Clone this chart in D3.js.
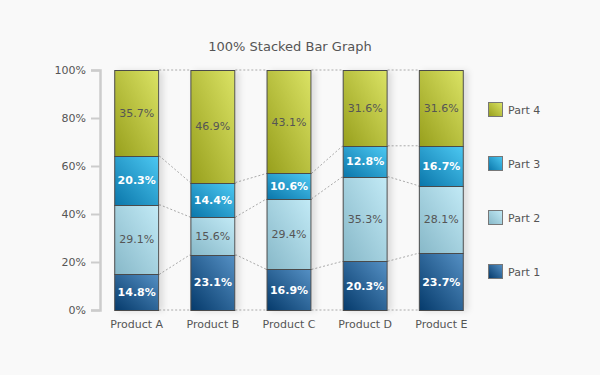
<!DOCTYPE html>
<html>
<head>
<meta charset="utf-8">
<script src="https://cdn.jsdelivr.net/npm/d3@7"></script>
<style>
  body { margin: 0; background: #f9f9f9; }
  svg { display: block; font-family: "DejaVu Sans", Verdana, sans-serif; }
</style>
</head>
<body>
<div id="chart"></div>
<script>
// data
const products = ['Product A', 'Product B', 'Product C', 'Product D', 'Product E'];
const parts = ['Part 1', 'Part 2', 'Part 3', 'Part 4'];
const part1 = [14.8, 23.1, 16.9, 20.3, 23.7];
const part2 = [29.1, 15.6, 29.4, 35.3, 28.1];
const part3 = [20.3, 14.4, 10.6, 12.8, 16.7];
const part4 = [35.7, 46.9, 43.1, 31.6, 31.6];
const yTicks = [0, 0.2, 0.4, 0.6, 0.8, 1];

function drawChart() {
  const width = 600, height = 375;
  const margin = { top: 70, right: 120, bottom: 65, left: 100 };

  const rows = products.map((p, i) => ({
    product: p, 'Part 1': part1[i], 'Part 2': part2[i], 'Part 3': part3[i], 'Part 4': part4[i]
  }));

  const series = d3.stack().keys(parts).offset(d3.stackOffsetExpand)(rows);

  const svg = d3.select('#chart').append('svg')
    .attr('width', width).attr('height', height);

  const defs = svg.append('defs');
  // gradients: dark bottom-left, light top-right
  const grads = {
    'Part 1': ['#053a6b', '#5590c4'],
    'Part 2': ['#87b8c8', '#c2eaf6'],
    'Part 3': ['#0a76aa', '#4cc8f2'],
    'Part 4': ['#979f1c', '#dbe365']
  };
  parts.forEach((k, i) => {
    const g = defs.append('linearGradient').attr('id', 'g' + i)
      .attr('x1', '0').attr('y1', '1').attr('x2', '1').attr('y2', '0');
    g.append('stop').attr('offset', '0%').attr('stop-color', grads[k][0]);
    g.append('stop').attr('offset', '100%').attr('stop-color', grads[k][1]);
  });
  const f = defs.append('filter').attr('id', 'shadow')
    .attr('x', '-20%').attr('y', '-10%').attr('width', '150%').attr('height', '120%');
  f.append('feDropShadow').attr('dx', 4).attr('dy', 1).attr('stdDeviation', 3)
    .attr('flood-color', '#000').attr('flood-opacity', 0.12);

  const x = d3.scaleBand().domain(products)
    .range([margin.left - 1, width - margin.right - 1]).paddingInner(0.41).paddingOuter(0.2);
  const y = d3.scaleLinear().domain([0, 1]).range([height - margin.bottom, margin.top]);
  const bw = x.bandwidth();

  // title
  svg.append('text')
    .attr('x', (margin.left + width - margin.right) / 2).attr('y', 51)
    .attr('text-anchor', 'middle').attr('fill', '#555').attr('font-size', 13)
    .text('100% Stacked Bar Graph');

  // y axis
  const yAxis = svg.append('g').attr('transform', `translate(${margin.left},0)`)
    .call(d3.axisLeft(y).tickValues(yTicks).tickSize(9).tickPadding(5).tickFormat(d3.format('.0%')));
  yAxis.select('.domain').attr('stroke', '#ccc').attr('stroke-width', 2.5);
  yAxis.selectAll('.tick line').attr('stroke', '#ccc').attr('stroke-width', 2);
  yAxis.selectAll('.tick text').attr('fill', '#555').attr('font-size', 11)
    .attr('font-family', '"DejaVu Sans", Verdana, sans-serif');

  // connector lines between bars at each cumulative level
  const levels = products.map((p, i) => [0].concat(series.map(s => s[i][1])));
  for (let i = 0; i < products.length - 1; i++) {
    levels[i].forEach((lv, j) => {
      svg.append('line')
        .attr('x1', x(products[i]) + bw).attr('y1', y(lv))
        .attr('x2', x(products[i + 1])).attr('y2', y(levels[i + 1][j]))
        .attr('stroke', '#aaa').attr('stroke-width', 1).attr('stroke-dasharray', '2,2');
    });
  }

  // bar shadows
  svg.append('g').selectAll('rect').data(products).join('rect')
    .attr('x', d => x(d)).attr('y', y(1)).attr('width', bw).attr('height', y(0) - y(1))
    .attr('fill', '#f9f9f9').attr('filter', 'url(#shadow)');

  // bars
  const layer = svg.append('g').selectAll('g').data(series).join('g');
  layer.selectAll('rect').data((s, i) => s.map(d => ({ d, i })))
    .join('rect')
    .attr('x', o => x(o.d.data.product) + 0.5)
    .attr('y', o => Math.round(y(o.d[1])) + 0.5)
    .attr('width', bw - 1)
    .attr('height', o => Math.round(y(o.d[0])) - Math.round(y(o.d[1])))
    .attr('fill', o => `url(#g${o.i})`)
    .attr('stroke', '#4a4a4a').attr('stroke-width', 1);

  // value labels
  layer.selectAll('text').data((s, i) => s.map(d => ({ d, i, key: s.key })))
    .join('text')
    .attr('x', o => x(o.d.data.product) + bw / 2)
    .attr('y', o => (y(o.d[0]) + y(o.d[1])) / 2 + 4)
    .attr('text-anchor', 'middle').attr('font-size', 11)
    .attr('fill', o => (o.i % 2 === 0 ? '#fff' : '#555'))
    .attr('font-weight', o => (o.i % 2 === 0 ? 'bold' : 'normal'))
    .text(o => o.d.data[o.key].toFixed(1) + '%');

  // x labels
  svg.append('g').selectAll('text').data(products).join('text')
    .attr('x', d => x(d) + bw / 2).attr('y', height - margin.bottom + 18)
    .attr('text-anchor', 'middle').attr('fill', '#555').attr('font-size', 11)
    .text(d => d);

  // legend (Part 4 on top)
  const legend = svg.append('g').selectAll('g').data(parts.slice().reverse()).join('g')
    .attr('transform', (d, i) => `translate(488,${102 + i * 54})`);
  legend.append('rect').attr('x', 0.5).attr('y', 0.5).attr('width', 14).attr('height', 14)
    .attr('fill', d => `url(#g${parts.indexOf(d)})`).attr('stroke', '#777');
  legend.append('text').attr('x', 20).attr('y', 11.5)
    .attr('fill', '#555').attr('font-size', 11).text(d => d);
}

drawChart();
</script>
</body>
</html>
